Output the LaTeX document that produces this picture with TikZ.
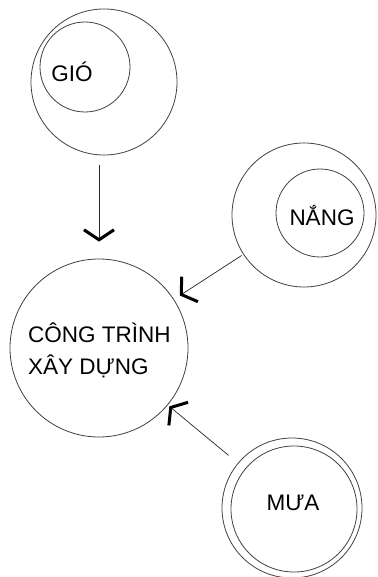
\documentclass[tikz,border=0pt]{standalone}
\usepackage{fontspec}
\setmainfont{Liberation Sans}
\usetikzlibrary{arrows.meta,calc}
\tikzset{
  ring/.style={circle,draw=black!75,line width=0.8pt,inner sep=0pt},
  word/.style={font=\fontsize{22.5}{32}\selectfont,inner sep=0pt},
  flow/.style={draw=black!85,line width=0.7pt,
    -{Straight Barb[length=10pt,width=30pt,line width=3pt 0,color=black]}}
}
\begin{document}
\begin{tikzpicture}[x=1pt,y=-1pt]
    \useasboundingbox (0,0) rectangle (377,577);
    % gio
    \node[ring,minimum size=146pt] (gio) at (104,82) {};
    \node[ring,minimum size=90pt] (gioin) at (85,67) {};
    \node[word,anchor=base] (giotxt) at (72,82) {GIÓ};
    % nang
    \node[ring,minimum size=144pt] (nang) at (304,215) {};
    \node[ring,minimum size=88pt] (nangin) at (320,213) {};
    \node[word,anchor=base] (nangtxt) at (322,225) {NẮNG};
    % mua
    \node[ring,minimum size=140pt] (mua) at (292,508) {};
    \node[ring,minimum size=126pt] (muain) at (294,509) {};
    \node[word,anchor=base] (muatxt) at (293,510) {MƯA};
    % cong trinh
    \node[ring,minimum size=178pt] (cong) at (99,348) {};
    \node[word,align=left,anchor=west] (congtxt) at (28,350) {CÔNG TRÌNH\\XÂY DỰNG};
    \draw[flow] ([yshift=-10pt]gio.south -| cong.north) -- ([yshift=17pt]cong.north);
    \draw[flow,shorten <=2pt,shorten >=7pt] (nang) -- (cong);
    \draw[flow,shorten <=12pt,shorten >=2pt] (mua) -- (cong);
\end{tikzpicture}
\end{document}
